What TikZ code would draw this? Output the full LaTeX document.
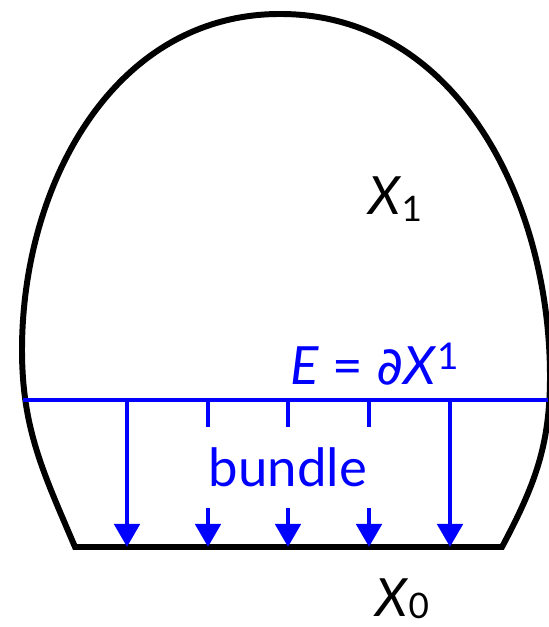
\documentclass[tikz,border=0pt]{standalone}
\usepackage{fontspec}
\setmainfont{Lato}
\newfontfamily\symfont{DejaVu Sans}
\usetikzlibrary{arrows.meta}

\newcommand{\lowidx}[1]{\raisebox{-0.12em}{\fontsize{20}{24}\selectfont #1}}

\begin{document}
\begin{tikzpicture}[
    bndry/.style={line width=3.4pt, line join=miter},
    fibre/.style={blue, line width=2.8pt},
    fibarrow/.style={fibre, -{Triangle[width=0.5cm,length=0.46cm]}},
    lbl/.style={font=\fontsize{30}{36}\selectfont, inner sep=0pt, anchor=base west}
]
    \useasboundingbox (0,0) rectangle (10.96,12.54);

    % total space over the base
    \coordinate (bl) at (1.5,1.6);
    \coordinate (br) at (10.04,1.6);
    \draw[bndry] (bl) to[out=113,in=-90] (0.44,5.54) to[out=90,in=180] (5.6,12.26)
        to[out=0,in=90] (11.0,5.0) to[out=-90,in=62] (br) -- cycle;

    % boundary E
    \coordinate (eL) at (0.46,4.54);
    \coordinate (eR) at (10.96,4.54);
    \draw[fibre] (eL) -- (eR);

    % labels
    \node[lbl] (xone) at (7.36,8.24) {\textit{X}\lowidx{1}};
    \node[lbl, text=blue] (edge) at (5.8,4.84) {\textit{E} = {\symfont\itshape ∂}\textit{X}\textsuperscript{1}};
    \node[lbl] (xzero) at (7.5,0.22) {\textit{X}\raisebox{-0.04em}{\fontsize{20}{24}\selectfont 0}};
    \node[font=\fontsize{30}{36}\selectfont, text=blue, inner sep=0pt,
          minimum height=1.62cm] (bundle) at (5.76,3.19) {bundle};

    % fibres
    \foreach \x/\i in {2.54/1,9.0/5} {
        \coordinate (top\i) at (\x,4.54);
        \coordinate (bot\i) at (\x,1.6);
        \draw[fibarrow] (top\i) -- (bot\i);
    }
    \foreach \x/\i in {4.16/2,5.76/3,7.38/4} {
        \coordinate (top\i) at (\x,4.54);
        \coordinate (bot\i) at (\x,1.6);
        \draw[fibre] (top\i) -- (top\i |- bundle.north);
        \draw[fibarrow] (top\i |- bundle.south) -- (bot\i);
    }
\end{tikzpicture}
\end{document}
